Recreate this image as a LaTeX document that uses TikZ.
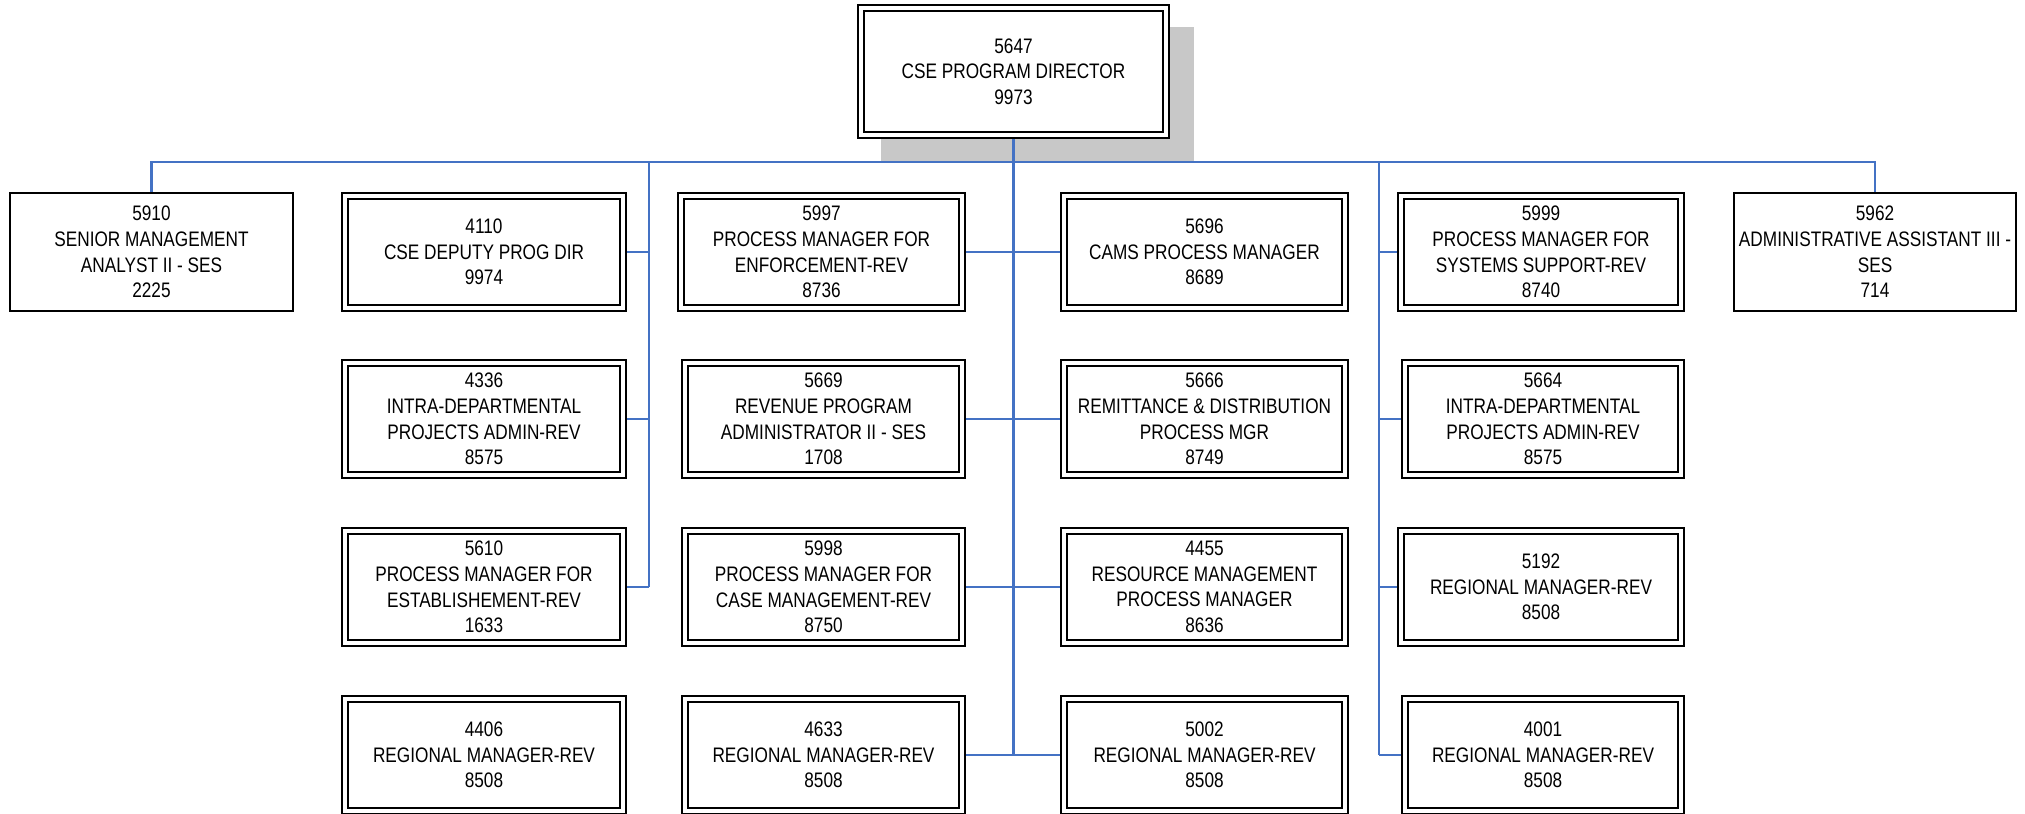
\documentclass[tikz,border=0pt]{standalone}
\usepackage{fontspec}
\setmainfont{Liberation Sans}[FakeStretch=0.82]
\definecolor{linkblue}{HTML}{4472C4}
\definecolor{shadowgray}{HTML}{C8C8C8}

\begin{document}
\begin{tikzpicture}[x=0.5pt,y=-0.5pt,
  card/.style={fill=white, align=center, inner sep=0pt,
    font=\fontsize{10.5pt}{12.8pt}\selectfont},
  dcard/.style={card, draw, double, line width=1pt, double distance=1.8pt,
    outer sep=1.9pt, minimum height=56.2pt},
  scard/.style={card, draw, line width=1pt, outer sep=0.5pt, minimum height=59pt},
  link/.style={draw=linkblue, line width=1.1pt},
  stub/.style={draw=linkblue, line width=0.7pt}]

\useasboundingbox (0,0) rectangle (2025,814);

% shadow behind the director box
\fill[shadowgray] (881,27) rectangle (1194,162);

% director
\node[dcard, minimum width=152.7pt, minimum height=63.7pt] (top) at (1013.5,71.5)
  {5647\\CSE PROGRAM DIRECTOR\\9973};

% row 1
\node[scard, minimum width=141.5pt] (a1) at (151.5,252)
  {5910\\SENIOR MANAGEMENT\\ANALYST II - SES\\2225};
\node[dcard, minimum width=139.2pt] (b1) at (484,252)
  {4110\\CSE DEPUTY PROG DIR\\9974};
\node[dcard, minimum width=140.7pt] (c1) at (821.5,252)
  {5997\\PROCESS MANAGER FOR\\ENFORCEMENT-REV\\8736};
\node[dcard, minimum width=140.7pt] (d1) at (1204.5,252)
  {5696\\CAMS PROCESS MANAGER\\8689};
\node[dcard, minimum width=140.2pt] (e1) at (1541,252)
  {5999\\PROCESS MANAGER FOR\\SYSTEMS SUPPORT-REV\\8740};
\node[scard, minimum width=141pt] (f1) at (1875,252)
  {5962\\ADMINISTRATIVE ASSISTANT III -\\SES\\714};

% row 2
\node[dcard, minimum width=139.2pt] (b2) at (484,419)
  {4336\\INTRA-DEPARTMENTAL\\PROJECTS ADMIN-REV\\8575};
\node[dcard, minimum width=138.7pt] (c2) at (823.5,419)
  {5669\\REVENUE PROGRAM\\ADMINISTRATOR II - SES\\1708};
\node[dcard, minimum width=140.7pt] (d2) at (1204.5,419)
  {5666\\REMITTANCE \& DISTRIBUTION\\PROCESS MGR\\8749};
\node[dcard, minimum width=138.2pt] (e2) at (1543,419)
  {5664\\INTRA-DEPARTMENTAL\\PROJECTS ADMIN-REV\\8575};

% row 3
\node[dcard, minimum width=139.2pt] (b3) at (484,587)
  {5610\\PROCESS MANAGER FOR\\ESTABLISHEMENT-REV\\1633};
\node[dcard, minimum width=138.7pt] (c3) at (823.5,587)
  {5998\\PROCESS MANAGER FOR\\CASE MANAGEMENT-REV\\8750};
\node[dcard, minimum width=140.7pt] (d3) at (1204.5,587)
  {4455\\RESOURCE MANAGEMENT\\PROCESS MANAGER\\8636};
\node[dcard, minimum width=140.2pt] (e3) at (1541,587)
  {5192\\REGIONAL MANAGER-REV\\8508};

% row 4
\node[dcard, minimum width=139.2pt] (b4) at (484,755)
  {4406\\REGIONAL MANAGER-REV\\8508};
\node[dcard, minimum width=138.7pt] (c4) at (823.5,755)
  {4633\\REGIONAL MANAGER-REV\\8508};
\node[dcard, minimum width=140.7pt] (d4) at (1204.5,755)
  {5002\\REGIONAL MANAGER-REV\\8508};
\node[dcard, minimum width=138.2pt] (e4) at (1543,755)
  {4001\\REGIONAL MANAGER-REV\\8508};

% main bus and trunks
\draw[link] (a1.north) -- ++(0,-30) -| (f1.north);
\draw[link] (top.south) -- (top.south |- d4.west);
\coordinate (lv) at (649,162);
\coordinate (rv) at (1379,162);
\draw[link] (lv) -- (lv |- b3.east);
\draw[link] (rv) -- (rv |- e4.west);

% branches to the boxes
\foreach \r in {1,2,3} {
  \draw[stub] (b\r.east) -- (b\r.east -| lv);
}
\foreach \r in {1,2,3,4} {
  \draw[stub] (c\r.east) -- (d\r.west);
  \draw[stub] (e\r.west) -- (e\r.west -| rv);
}
\end{tikzpicture}
\end{document}
